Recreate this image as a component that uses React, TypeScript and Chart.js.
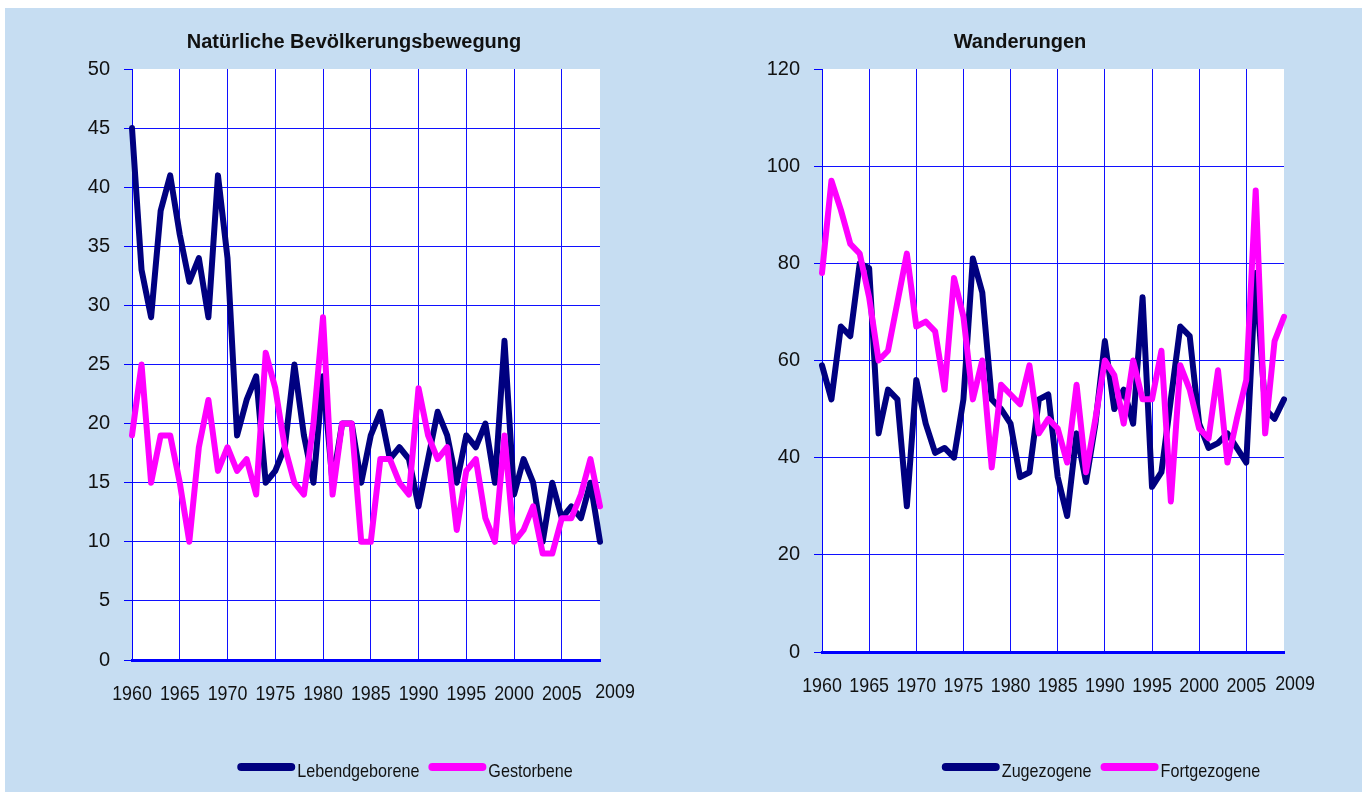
import React, { useEffect, useRef } from 'react';
import { Chart, registerables } from 'chart.js';

Chart.register(...registerables);

// ---------- data ----------
const years = [
  1960, 1961, 1962, 1963, 1964, 1965, 1966, 1967, 1968, 1969,
  1970, 1971, 1972, 1973, 1974, 1975, 1976, 1977, 1978, 1979,
  1980, 1981, 1982, 1983, 1984, 1985, 1986, 1987, 1988, 1989,
  1990, 1991, 1992, 1993, 1994, 1995, 1996, 1997, 1998, 1999,
  2000, 2001, 2002, 2003, 2004, 2005, 2006, 2007, 2008, 2009,
];
const xTickYears = [1960, 1965, 1970, 1975, 1980, 1985, 1990, 1995, 2000, 2005, 2009];

const lebendgeborene = [
  45, 33, 29, 38, 41, 36, 32, 34, 29, 41,
  34, 19, 22, 24, 15, 16, 18, 25, 19, 15,
  24, 15, 20, 20, 15, 19, 21, 17, 18, 17,
  13, 17, 21, 19, 15, 19, 18, 20, 15, 27,
  14, 17, 15, 10, 15, 12, 13, 12, 15, 10,
];
const gestorbene = [
  19, 25, 15, 19, 19, 15, 10, 18, 22, 16,
  18, 16, 17, 14, 26, 23, 18, 15, 14, 20,
  29, 14, 20, 20, 10, 10, 17, 17, 15, 14,
  23, 19, 17, 18, 11, 16, 17, 12, 10, 19,
  10, 11, 13, 9, 9, 12, 12, 14, 17, 13,
];
const zugezogene = [
  59, 52, 67, 65, 80, 79, 45, 54, 52, 30,
  56, 47, 41, 42, 40, 52, 81, 74, 52, 50,
  47, 36, 37, 52, 53, 36, 28, 45, 35, 47,
  64, 50, 54, 47, 73, 34, 37, 52, 67, 65,
  47, 42, 43, 45, 42, 39, 78, 50, 48, 52,
];
const fortgezogene = [
  78, 97, 91, 84, 82, 73, 60, 62, 72, 82,
  67, 68, 66, 54, 77, 69, 52, 60, 38, 55,
  53, 51, 59, 45, 48, 46, 39, 55, 37, 48,
  60, 57, 47, 60, 52, 52, 62, 31, 59, 54,
  46, 44, 58, 39, 48, 56, 95, 45, 64, 69,
];

const leftTitle = 'Natürliche Bevölkerungsbewegung';
const rightTitle = 'Wanderungen';
const leftSeriesNames = ['Lebendgeborene', 'Gestorbene'];
const rightSeriesNames = ['Zugezogene', 'Fortgezogene'];
const leftYMax = 50;
const leftYStep = 5;
const rightYMax = 120;
const rightYStep = 20;

// ---------- style ----------
const NAVY = '#000080';
const MAGENTA = '#FF00FF';
const GRID = '#1010ff';
const TEXT = '#111111';
const PANEL_BG = '#C6DDF2';
const FONT = '"Liberation Sans", Arial, sans-serif';
const CONDENSE = 0.85;

function drawCondensed(ctx: any, text: string, x: number, y: number, align: 'left' | 'center') {
  ctx.save();
  ctx.translate(x, y);
  ctx.scale(CONDENSE, 1);
  ctx.textAlign = align;
  ctx.textBaseline = 'alphabetic';
  ctx.fillText(text, 0, 0);
  ctx.restore();
}

const decorPlugin = {
  id: 'decor',
  beforeDraw(chart: any) {
    const { ctx, chartArea } = chart;
    ctx.save();
    ctx.fillStyle = '#ffffff';
    ctx.fillRect(chartArea.left, chartArea.top, chartArea.right - chartArea.left, chartArea.bottom - chartArea.top);
    ctx.restore();
  },
  afterDraw(chart: any, _args: any, opts: any) {
    const ctx = chart.ctx;
    const area = chart.chartArea;
    ctx.save();
    ctx.fillStyle = TEXT;

    // title
    ctx.font = `bold 20px ${FONT}`;
    ctx.textAlign = 'center';
    ctx.textBaseline = 'alphabetic';
    ctx.fillText(opts.title, opts.titleX, opts.titleY);

    // x-axis year labels (condensed, as in the original)
    const xs = chart.scales.x;
    ctx.font = `21px ${FONT}`;
    xTickYears.forEach((yr, i) => {
      const idx = years.indexOf(yr);
      const last = i === xTickYears.length - 1;
      const px = xs.getPixelForValue(idx) + (last ? opts.lastLabelShift : 0);
      const py = area.bottom + 40 - (last ? 2 : 0);
      drawCondensed(ctx, String(yr), px, py, 'center');
    });

    // legend
    ctx.font = `19px ${FONT}`;
    const lineLen = 58;
    const gapText = 2;
    const gapItem = 9;
    const items = chart.data.datasets.map((ds: any) => ({ text: ds.label, color: ds.borderColor }));
    const tw = (t: string) => ctx.measureText(t).width * CONDENSE;
    let total = 0;
    items.forEach((it: any, i: number) => {
      total += lineLen + gapText + tw(it.text) + (i < items.length - 1 ? gapItem : 0);
    });
    let x = opts.legendX - total / 2;
    items.forEach((it: any) => {
      ctx.strokeStyle = it.color;
      ctx.lineWidth = 8;
      ctx.lineCap = 'round';
      ctx.beginPath();
      ctx.moveTo(x + 4, opts.legendLineY);
      ctx.lineTo(x + lineLen - 4, opts.legendLineY);
      ctx.stroke();
      x += lineLen + gapText;
      ctx.fillStyle = TEXT;
      drawCondensed(ctx, it.text, x, opts.legendTextY, 'left');
      x += tw(it.text) + gapItem;
    });
    ctx.restore();
  },
};

type PanelProps = {
  left: number;
  width: number;
  height: number;
  areaLeft: number;
  areaRight: number;
  areaTop: number;
  areaBottom: number;
  title: string;
  titleX: number;
  legendX: number;
  lastLabelShift: number;
  names: string[];
  series: number[][];
  yMax: number;
  yStep: number;
};

function ChartPanel(p: PanelProps) {
  const ref = useRef<HTMLCanvasElement | null>(null);
  useEffect(() => {
    if (!ref.current) return;
    const colors = [NAVY, MAGENTA];
    const chart = new Chart(ref.current, {
      type: 'line',
      data: {
        labels: years.map(String),
        datasets: p.series.map((d, i) => ({
          label: p.names[i],
          data: d,
          borderColor: colors[i],
          backgroundColor: colors[i],
          borderWidth: 6,
          borderJoinStyle: 'round',
          borderCapStyle: 'round',
          pointRadius: 0,
          tension: 0,
          fill: false,
          order: 2 - i,
        })),
      },
      options: {
        responsive: false,
        animation: false,
        events: [],
        layout: {
          padding: { left: 0, top: p.areaTop, right: p.width - p.areaRight, bottom: 0 },
        },
        plugins: {
          legend: { display: false },
          title: { display: false },
          tooltip: { enabled: false },
          decor: {
            title: p.title,
            titleX: p.titleX,
            titleY: 40,
            legendX: p.legendX,
            legendLineY: 759,
            legendTextY: 769,
            lastLabelShift: p.lastLabelShift,
          },
        } as any,
        scales: {
          x: {
            type: 'category',
            offset: false,
            grid: {
              offset: false,
              drawTicks: false,
              lineWidth: 1,
              color: (c: any) => {
                const yr = years[c.index];
                return c.index > 0 && c.index < years.length - 1 && yr % 5 === 0 ? GRID : 'rgba(0,0,0,0)';
              },
            },
            border: { display: true, color: '#0000ff', width: 3 },
            ticks: {
              display: false,
              autoSkip: false,
              maxRotation: 0,
              minRotation: 0,
            },
            afterFit: (scale: any) => {
              scale.height = p.height - p.areaBottom;
            },
          },
          y: {
            min: 0,
            max: p.yMax,
            grid: {
              lineWidth: 1,
              color: (c: any) => (c.tick && c.tick.value === p.yMax ? 'rgba(0,0,0,0)' : GRID),
              tickColor: '#0000ff',
              tickLength: 8,
              drawTicks: true,
            },
            border: { display: true, color: '#0000ff', width: 1 },
            ticks: {
              stepSize: p.yStep,
              padding: 14,
              color: TEXT,
              font: { family: FONT, size: 20 },
            },
            afterFit: (scale: any) => {
              scale.width = p.areaLeft;
            },
          },
        },
      },
      plugins: [decorPlugin],
    } as any);
    return () => chart.destroy();
  }, []);
  return (
    <canvas
      ref={ref}
      width={p.width}
      height={p.height}
      style={{ position: 'absolute', left: p.left, top: 0, width: p.width, height: p.height, display: 'block' }}
    />
  );
}

export default function App() {
  return (
    <div style={{ position: 'fixed', left: 0, top: 0, width: 1367, height: 796, background: '#ffffff', overflow: 'hidden' }}>
      <div style={{ position: 'absolute', left: 5, top: 8, width: 1357, height: 784, background: PANEL_BG }}>
        <ChartPanel
          left={0}
          width={680}
          height={782}
          areaLeft={127}
          areaRight={595}
          areaTop={61}
          areaBottom={652}
          title={leftTitle}
          titleX={349}
          legendX={400}
          lastLabelShift={15}
          names={leftSeriesNames}
          series={[lebendgeborene, gestorbene]}
          yMax={leftYMax}
          yStep={leftYStep}
        />
        <ChartPanel
          left={680}
          width={677}
          height={782}
          areaLeft={137}
          areaRight={599}
          areaTop={61}
          areaBottom={644}
          title={rightTitle}
          titleX={335}
          legendX={416}
          lastLabelShift={11}
          names={rightSeriesNames}
          series={[zugezogene, fortgezogene]}
          yMax={rightYMax}
          yStep={rightYStep}
        />
      </div>
    </div>
  );
}
